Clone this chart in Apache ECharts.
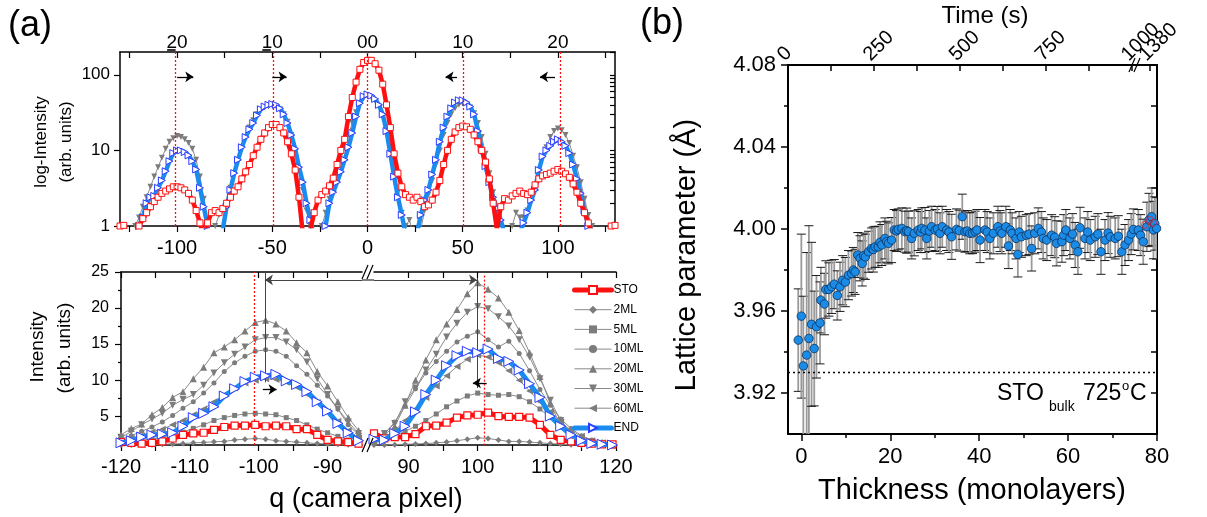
<!DOCTYPE html>
<html>
<head>
<meta charset="utf-8">
<script src="https://cdn.jsdelivr.net/npm/echarts@6/dist/echarts.min.js"></script>
<style>
  html, body { margin: 0; padding: 0; background: #fff; }
  #chart { width: 1207px; height: 517px; }
</style>
</head>
<body>
<div id="chart"></div>
<script>
// ---------- (a) upper: RHEED line profiles on a log scale ----------
const qLog = [
  -130,-128,-126,-124,-122,-120,-118,-116,-114,-112,
  -110,-108,-106,-104,-102,-100,-98,-96,-94,-92,
  -90,-88,-86,-84,-82,-80,-78,-76,-74,-72,
  -70,-68,-66,-64,-62,-60,-58,-56,-54,-52,
  -50,-48,-46,-44,-42,-40,-38,-36,-34,-32,
  -30,-28,-26,-24,-22,-20,-18,-16,-14,-12,
  -10,-8,-6,-4,-2,0,2,4,6,8,
  10,12,14,16,18,20,22,24,26,28,
  30,32,34,36,38,40,42,44,46,48,
  50,52,54,56,58,60,62,64,66,68,
  70,72,74,76,78,80,82,84,86,88,
  90,92,94,96,98,100,102,104,106,108,
  110,112,114,116,118,120,122,124,126,128,
  130
];
const stoLog = [
  1.0,1.02,0.8,0.7,0.8,1.0,1.25,1.5,1.8,2.1,
  2.4,2.7,2.9,3.1,3.3,3.3,3.2,3.0,2.7,2.2,
  1.6,1.1,0.7,1.1,1.5,1.6,1.5,1.7,2.0,2.4,
  2.9,3.3,4.2,5.2,6.5,8.5,11,14,17,20,
  22,22,20,17,13,9,5.5,2.4,0.8,0.6,
  0.9,1.5,2.2,2.6,2.9,3.4,4.3,6.5,10,14,
  28,50,80,118,145,155,155,140,115,75,
  40,20,9,5,3.3,2.6,2.4,2.2,2.4,2.1,
  1.8,1.9,2.2,2.8,4,6.5,10,14,17.5,20,
  21,20.5,19,16,13,10,7,4.2,2.0,0.9,
  1.8,2.3,2.2,2.5,2.7,2.9,2.7,2.6,2.8,3.5,
  4.2,4.6,4.8,5.0,5.3,5.6,5.3,4.9,4.4,3.6,
  2.8,2.0,1.5,1.1,0.8,0.6,0.6,0.7,0.8,1.0,
  1.02
];
const ml30Log = [
  0.5,0.5,0.6,0.8,1.0,1.3,1.8,2.4,3.3,4.5,
  6,8,10.5,13,14.5,15.5,15,14,12.5,10.5,
  7.5,4.5,2.3,1.2,0.8,1.0,1.4,1.6,2.0,3.2,
  5,7.5,11,15,20,25,30,34,37,38,
  39,38,35,30,24,16,10,5.5,3,1.6,
  1.0,0.7,0.7,1.0,1.5,2.3,3.3,5,7.5,11,
  16,23,32,42,49,52,50,45,38,27,
  16,9,5,2.8,1.5,1.0,1.2,0.8,0.7,0.9,
  1.6,2.6,4,6.5,10,16,23,30,36,40,
  42,41,37,31,23,15,9,5,2.8,1.6,
  1.1,0.8,0.7,1.0,1.5,1.3,1.3,1.6,2.1,3.3,
  5.5,8,11,15,18,19.5,18.5,16,12.5,8.5,
  6,3.8,2.3,1.4,1.0,0.7,0.5,0.5,0.5,0.5,
  0.5
];
const endLog = [
  0.5,0.5,0.5,0.6,0.8,1.0,1.3,2.0,2.4,2.5,
  3.2,4.0,5.3,7.2,9.2,10,10,9.5,8.6,7.2,
  5.6,3.2,1.8,1.0,0.6,0.4,0.5,0.9,1.8,3.0,
  5,7.5,11,15,19,23,29,35,38,40,
  41,40,36,30,23,16,10.5,6,3.8,2.0,
  1.2,0.7,0.5,0.6,1.0,2.0,2.8,3.8,5.2,7.5,
  11,17,28,42,52,55,53,48,40,30,
  18,9,4.5,2.4,1.4,0.8,0.5,0.5,0.8,1.4,
  2.2,3.0,4.8,7.5,13,20,28,36,43,46,
  46,43,38,30,18,10.5,6.2,3.8,2.4,1.7,
  1.2,0.8,0.6,0.5,0.6,0.8,1.1,1.5,2.2,3.0,
  5.5,8.3,10,11.5,13,14,13,11.5,9.2,6.5,
  4.2,2.7,1.6,1.0,0.6,0.5,0.5,0.5,0.5,0.5,
  0.5
];
const spotRefQ = [-101, -49.7, 0, 50.5, 101];
const spotTickQ = [-100, -50, 0, 50, 100];
const spotNames = ['20', '10', '00', '10', '20'];
const spotNegative = [true, true, false, false, false];
const qLogLabels = [-100, -50, 0, 50, 100];
const qLogTicks = [-125, -100, -75, -50, -25, 0, 25, 50, 75, 100, 125];
const logLabels = [1, 10, 100];
const logMinorTicks = [1,2,3,4,5,6,7,8,9,10,20,30,40,50,60,70,80,90,100,200];

// ---------- (a) lower: profiles across the (-10) and (10) rods, linear scale ----------
const layerNames = ['STO', '2ML', '5ML', '10ML', '20ML', '30ML', '60ML', 'END'];
const qLeft = [-120,-118.5,-117,-115.5,-114,-112.5,-111,-109.5,-108,-106.5,-105,-103.5,
               -102,-100.5,-99,-97.5,-96,-94.5,-93,-91.5,-90,-88.5,-87,-85.5];
const qRight = [85,86.5,88,89.5,91,92.5,94,95.5,97,98.5,100,101.5,
                103,104.5,106,107.5,109,110.5,112,113.5,115,116.5,118,119.5];
const stoL  = [1.4,1.3,1.2,1.3,1.5,1.9,2.4,2.6,2.7,3.1,3.5,3.7,3.7,3.8,3.6,3.7,3.6,3.2,3.2,2.4,1.7,1.5,1.4,1.2];
const ml2L  = [1.0,1.0,1.05,1.05,1.1,1.15,1.2,1.3,1.35,1.45,1.5,1.7,1.8,1.9,1.8,1.6,1.5,1.4,1.3,1.2,1.15,1.1,1.05,1.0];
const ml5L  = [1.3,1.4,1.6,1.8,2.1,2.4,2.8,3.3,3.8,4.4,4.8,5.1,5.3,5.4,5.3,5.2,4.8,4.4,3.8,3.2,2.7,2.2,1.7,1.4];
const ml10L = [1.8,2.3,2.9,3.5,4.2,5.1,6.1,7.0,8.2,9.6,11.2,12.4,13.3,14.0,14.2,14.0,13.3,12.0,10.8,9.3,7.8,6.0,3.8,2.4];
const ml20L = [2.4,3.3,3.9,5.2,6.2,7.6,8.4,10.2,11.8,13.8,14.6,15.6,16.8,18.0,18.3,17.8,16.8,15.2,13.8,11.2,9.2,7.0,4.8,3.0];
const ml30L = [2.0,2.9,3.8,4.6,5.4,6.5,7.3,8.0,9.3,11.0,12.4,13.6,14.6,15.6,15.9,15.9,15.3,14.2,12.5,10.2,8.0,6.0,4.2,2.6];
const ml60L = [1.5,1.9,2.3,2.8,3.2,3.8,4.4,5.2,6.0,7.0,8.0,8.9,9.6,10.0,10.2,10.1,9.7,9.0,8.0,6.9,5.6,4.3,3.0,2.0];
const endL  = [1.3,1.6,2.1,2.4,2.5,2.7,3.6,4.8,5.4,6.3,7.8,8.8,9.8,10.4,10.6,10.8,9.9,9.4,8.4,7.0,5.7,4.0,2.7,1.6];
const stoR  = [2.6,1.9,2.1,2.1,2.5,3.6,3.7,4.1,4.8,5.1,5.2,5.5,5.0,4.9,4.9,4.8,3.8,2.4,1.7,1.5,1.3,1.2,1.1,1.1];
const ml2R  = [1.0,1.0,1.05,1.1,1.15,1.2,1.3,1.4,1.6,1.8,2.0,1.9,1.7,1.5,1.5,1.4,1.3,1.2,1.1,1.05,1.0,1.0,1.0,1.0];
const ml5R  = [1.4,1.8,2.3,2.9,3.6,4.4,5.3,6.3,7.1,7.8,8.2,8.0,7.9,8.0,7.7,7.0,6.0,4.8,3.6,2.6,2.0,1.6,1.3,1.2];
const ml10R = [1.8,2.5,4.2,6.4,8.8,11.0,12.6,14.0,15.3,16.1,16.7,15.6,14.6,15.4,13.7,11.3,8.7,6.5,4.6,3.3,2.3,1.7,1.4,1.2];
const ml20R = [2.2,2.4,3.6,6.5,10.0,12.8,15.6,17.8,19.8,22.0,23.5,22.6,21.4,19.4,16.9,13.8,10.5,6.8,3.6,2.0,1.5,1.2,1.1,1.0];
const ml30R = [2.0,2.6,4.0,7.0,8.9,11.4,13.6,16.0,17.9,19.4,20.2,19.9,18.8,17.5,15.6,13.2,10.2,7.2,4.4,2.7,1.8,1.4,1.2,1.1];
const ml60R = [1.6,2.1,3.0,4.4,6.0,7.6,9.2,10.6,11.9,12.9,13.5,13.2,12.4,11.3,10.0,8.5,7.0,5.6,4.2,3.0,2.2,1.6,1.3,1.1];
const endR  = [1.8,1.7,2.6,3.6,5.6,8.0,10.0,12.0,13.4,14.0,13.8,14.3,13.0,12.6,11.4,9.5,7.6,5.0,3.6,2.4,1.6,1.2,1.1,1.0];
const rodRefLeft = -100.7, rodRefRight = 101;
const qLeftLabels = [-120, -110, -100, -90];
const qLeftTicks = [-120, -115, -110, -105, -100, -95, -90];
const qRightLabels = [90, 100, 110, 120];
const qRightTicks = [90, 95, 100, 105, 110, 115, 120];
const intLabels = [5, 10, 15, 20, 25];
const intMinor = [2.5, 7.5, 12.5, 17.5, 22.5];

// ---------- (b) in-plane lattice parameter vs thickness ----------
const thicknessML = [
  -0.7,0,0.45,1.2,1.7,2.3,2.9,3.4,4.2,4.4,
  5.2,5.5,6.2,6.8,7.4,8.1,8.7,9.3,9.9,10.6,
  11.3,11.7,12.1,12.7,13.2,13.7,14.0,14.4,15.1,15.8,
  16.2,16.6,17.3,17.7,18.1,18.8,19.2,19.6,20.3,20.9,
  21.4,21.8,22.6,23.3,23.7,24.1,24.8,25.4,26.3,26.8,
  27.1,27.8,28.2,28.8,29.3,30.1,30.6,31.2,31.7,32.7,
  33.2,33.8,34.9,35.5,36.2,36.8,37.3,37.9,38.5,39.1,
  39.5,40.2,41.3,41.8,42.4,43.2,44.2,44.7,45.1,46.0,
  46.6,47.0,47.4,48.3,48.7,49.0,49.5,50.6,51.2,51.8,
  52.5,53.3,54.0,54.4,55.2,56.3,57.0,57.4,58.6,59.0,
  59.5,60.4,61.0,61.6,62.2,62.7,63.8,64.4,65.0,66.1,
  66.7,67.4,68.3,69.0,69.5,70.6,71.3,72.1,72.8,73.6,
  74.2,74.7,75.8,76.3,76.9,77.7,78.2,78.8,79.2,79.5,
  79.9
];
const latticeA = [
  3.9458,3.9575,3.9332,3.9385,3.9466,3.9535,3.9417,3.9523,3.9542,3.9653,
  3.9634,3.9705,3.9705,3.9718,3.9731,3.9676,3.9718,3.9750,3.9741,3.9775,
  3.9783,3.9800,3.9791,3.9873,3.9857,3.9832,3.9870,3.9864,3.9889,3.9905,
  3.9900,3.9913,3.9913,3.9935,3.9922,3.9954,3.9938,3.9930,3.9946,3.9995,
  3.9990,3.9998,4.0003,3.9987,3.9992,3.9987,3.9954,3.9979,3.9995,3.9985,
  4.0003,3.9995,3.9954,3.9990,4.0011,3.9995,4.0000,3.9979,4.0011,3.9995,
  3.9985,3.9962,3.9998,3.9992,4.0060,3.9987,3.9990,3.9979,3.9980,3.9987,
  3.9995,3.9946,3.9995,3.9985,3.9954,3.9979,4.0011,3.9990,3.9979,4.0011,
  3.9917,3.9995,3.9979,3.9954,3.9876,3.9985,3.9962,3.9970,3.9975,3.9905,
  3.9979,4.0003,3.9985,3.9954,3.9946,3.9970,3.9960,3.9930,3.9938,3.9970,
  3.9995,3.9954,3.9975,3.9922,3.9889,4.0006,3.9954,3.9985,3.9946,3.9962,
  3.9975,3.9889,3.9946,3.9980,3.9962,3.9954,3.9965,3.9889,3.9922,3.9946,
  3.9975,3.9998,3.9995,3.9970,3.9938,4.0011,4.0044,4.0060,3.9995,4.0027,
  4.0003
];
const latticeErr = [
  0.025,0.040,0.034,0.050,0.055,0.040,0.028,0.025,0.020,0.016,
  0.015,0.014,0.013,0.013,0.012,0.012,0.012,0.012,0.012,0.012,
  0.011,0.011,0.011,0.011,0.011,0.011,0.011,0.011,0.010,0.010,
  0.011,0.010,0.010,0.010,0.010,0.010,0.010,0.010,0.011,0.010,
  0.010,0.010,0.010,0.010,0.011,0.010,0.010,0.011,0.010,0.010,
  0.010,0.011,0.010,0.010,0.010,0.010,0.011,0.010,0.010,0.010,
  0.010,0.011,0.010,0.010,0.011,0.010,0.010,0.010,0.010,0.010,
  0.010,0.011,0.010,0.010,0.010,0.010,0.010,0.010,0.010,0.010,
  0.011,0.010,0.010,0.010,0.011,0.010,0.010,0.010,0.010,0.011,
  0.010,0.010,0.010,0.010,0.010,0.010,0.010,0.011,0.010,0.010,
  0.010,0.010,0.010,0.011,0.011,0.010,0.010,0.010,0.010,0.010,
  0.010,0.011,0.010,0.010,0.010,0.010,0.010,0.011,0.010,0.010,
  0.010,0.010,0.010,0.010,0.011,0.012,0.013,0.014,0.014,0.013,
  0.015
];
const ringML = [77.3, 78.4, 79.1];
const ringA = [4.0020, 4.0045, 4.0030];
const stoBulkA = 3.9268;
const mlLabels = [0, 20, 40, 60, 80];
const mlMinor = [10, 30, 50, 70];
const aLabels = [3.92, 3.96, 4.00, 4.04, 4.08];
const aMinor = [3.94, 3.98, 4.02, 4.06];
const aRightTicks = [3.92, 3.94, 3.96, 3.98, 4.00, 4.02, 4.04, 4.06, 4.08];
// time axis: 0-1000 s linear, then a break to the final 1380 s mark
const timeMax = 1073;
const timeTicks = [0, 125, 250, 375, 500, 625, 750, 875, 1000, 1052];
const timeLabelPos = [0, 250, 500, 750, 1000];
const timeBreakPos = 1052;
const timeBreakLabel = '1380';

// ---------- styling ----------
const FONT = '"Liberation Sans", Arial, Helvetica, sans-serif';
const INK = '#000';
const RED = '#ff1010';
const BLUE = '#1a8cf0';
const BLUE_EDGE = '#2a3cff';
const GRAY = '#8a8a8a';

const zip = (xs, ys) => xs.map((x, i) => [x, ys[i]]);

function axLine(w) { return { show: true, onZero: false, lineStyle: { color: INK, width: w } }; }
function axTick(vals, len, inside, w) {
  return { show: true, customValues: vals, length: len, inside: inside, lineStyle: { color: INK, width: w || 1.2 } };
}
function axLabel(vals, size, margin, extra) {
  return Object.assign({ show: true, customValues: vals, fontSize: size, margin: margin, color: INK,
    fontFamily: FONT, showMinLabel: true, showMaxLabel: true, hideOverlap: false }, extra || {});
}
const hidden = { show: false };
const noSplit = { show: false };
const noLine = { show: false, onZero: false };

function vAxis(grid, pos, min, max, line, tick, label, extra) {
  return Object.assign({
    gridIndex: grid, type: 'value', position: pos, min: min, max: max,
    axisLine: line, axisTick: tick, axisLabel: label, splitLine: noSplit
  }, extra || {});
}

// gray thin-line series of the lower panel
const graySymbols = {
  '2ML':  { symbol: 'diamond', size: 6, rotate: 0 },
  '5ML':  { symbol: 'rect', size: 5, rotate: 0 },
  '10ML': { symbol: 'circle', size: 5, rotate: 0 },
  '20ML': { symbol: 'triangle', size: 7, rotate: 0 },
  '30ML': { symbol: 'triangle', size: 7, rotate: 180 },
  '60ML': { symbol: 'triangle', size: 7, rotate: 90 }
};
const lowerData = {
  STO:   [stoL, stoR],
  '2ML': [ml2L, ml2R],
  '5ML': [ml5L, ml5R],
  '10ML':[ml10L, ml10R],
  '20ML':[ml20L, ml20R],
  '30ML':[ml30L, ml30R],
  '60ML':[ml60L, ml60R],
  END:   [endL, endR]
};

function styleFor(name) {
  if (name === 'STO') {
    return { symbol: 'rect', symbolSize: 7, symbolRotate: 0,
      itemStyle: { color: '#fff', borderColor: RED, borderWidth: 1.2 },
      lineStyle: { color: RED, width: 5, cap: 'round', join: 'round' }, z: 5 };
  }
  if (name === 'END') {
    return { symbol: 'triangle', symbolSize: 10, symbolRotate: -90,
      itemStyle: { color: '#fff', borderColor: BLUE_EDGE, borderWidth: 1 },
      lineStyle: { color: BLUE, width: 5, cap: 'round', join: 'round' }, z: 6 };
  }
  const g = graySymbols[name];
  return { symbol: g.symbol, symbolSize: g.size, symbolRotate: g.rotate,
    itemStyle: { color: '#7c7c7c' },
    lineStyle: { color: GRAY, width: 1 }, z: 3 };
}

const dotted = { color: RED, width: 1.3, type: [2, 2] };
const annLine = { color: '#444', width: 1, type: 'solid' };
const arrowLine = { color: '#000', width: 1.3, type: 'solid' };

function seg(a, b, s0, s1, style) {
  return [
    { coord: a, symbol: s0, lineStyle: style },
    { coord: b, symbol: s1, lineStyle: style }
  ];
}
function markLines(items) {
  return { silent: true, symbol: ['none', 'none'], symbolSize: 8, label: { show: false }, animation: false, data: items };
}

const series = [];

// upper panel: log-intensity profiles
series.push({
  name: '30ML (log)', type: 'line', xAxisIndex: 0, yAxisIndex: 0, data: zip(qLog, ml30Log),
  symbol: 'triangle', symbolRotate: 180, symbolSize: 6, clip: true, z: 2,
  itemStyle: { color: '#7c7c7c' }, lineStyle: { color: GRAY, width: 1 }
});
series.push({
  name: 'END (log)', type: 'line', xAxisIndex: 0, yAxisIndex: 0, data: zip(qLog, endLog),
  symbol: 'triangle', symbolRotate: -90, symbolSize: 7, clip: true, z: 3,
  itemStyle: { color: '#fff', borderColor: BLUE_EDGE, borderWidth: 1 },
  lineStyle: { color: BLUE, width: 4.5, join: 'round' }
});
series.push({
  name: 'STO (log)', type: 'line', xAxisIndex: 0, yAxisIndex: 0, data: zip(qLog, stoLog),
  symbol: 'rect', symbolSize: 6, clip: true, z: 4,
  itemStyle: { color: '#fff', borderColor: RED, borderWidth: 1 },
  lineStyle: { color: RED, width: 4.5, join: 'round' },
  markLine: markLines(spotRefQ.map(q => ({ xAxis: q, lineStyle: dotted })).concat([
    seg([-100, 94], [-91.5, 94], 'none', 'arrow', arrowLine),
    seg([-50, 94], [-42.5, 94], 'none', 'arrow', arrowLine),
    seg([47, 94], [41, 94], 'none', 'arrow', arrowLine),
    seg([98.5, 94], [90.6, 94], 'none', 'arrow', arrowLine)
  ]))
});

// lower panel: left and right halves of the broken q axis
['2ML', '5ML', '10ML', '20ML', '30ML', '60ML', 'STO', 'END'].forEach(name => {
  const st = styleFor(name);
  [0, 1].forEach(side => {
    const s = Object.assign({
      name: name, type: 'line',
      xAxisIndex: side === 0 ? 2 : 4, yAxisIndex: side === 0 ? 2 : 4,
      data: zip(side === 0 ? qLeft : qRight, lowerData[name][side]), clip: true
    }, st);
    if (name === 'END') {
      s.markLine = side === 0 ? markLines([
        { xAxis: rodRefLeft, lineStyle: dotted },
        seg([-99.1, 25], [-99.1, 9.7], 'none', 'none', annLine),
        seg([-99.1, 23.9], [-85, 23.9], 'arrow', 'none', annLine),
        seg([-99.4, 8.7], [-97.4, 8.7], 'none', 'arrow', arrowLine)
      ]) : markLines([
        seg([rodRefRight, 24.5], [rodRefRight, 1], 'none', 'none', dotted),
        seg([99.9, 24.2], [99.9, 8.9], 'none', 'none', annLine),
        seg([85, 23.9], [99.9, 23.9], 'none', 'arrow', annLine),
        seg([101.3, 9.6], [99.3, 9.6], 'none', 'arrow', arrowLine)
      ]);
    }
    series.push(s);
  });
});

// panel (b): error bars, points, bulk reference
series.push({
  name: 'error', type: 'custom', xAxisIndex: 6, yAxisIndex: 5, clip: true, z: 2,
  data: thicknessML.map((t, i) => [t, latticeA[i], latticeErr[i]]),
  encode: { x: 0, y: 1 },
  renderItem: function (params, api) {
    const t = api.value(0), a = api.value(1), e = api.value(2);
    const hi = api.coord([t, a + e]);
    const lo = api.coord([t, a - e]);
    const hw = 4.5;
    return {
      type: 'group',
      children: [
        { type: 'line', shape: { x1: hi[0], y1: hi[1], x2: lo[0], y2: lo[1] },
          style: { stroke: '#9a9a9a', lineWidth: 1.8 } },
        { type: 'line', shape: { x1: hi[0] - hw, y1: hi[1], x2: hi[0] + hw, y2: hi[1] },
          style: { stroke: '#1a1a1a', lineWidth: 1 } },
        { type: 'line', shape: { x1: lo[0] - hw, y1: lo[1], x2: lo[0] + hw, y2: lo[1] },
          style: { stroke: '#1a1a1a', lineWidth: 1 } }
      ]
    };
  }
});
series.push({
  name: 'lattice', type: 'scatter', xAxisIndex: 6, yAxisIndex: 5, z: 4, clip: true,
  data: zip(thicknessML, latticeA), symbol: 'circle', symbolSize: 8.5,
  itemStyle: { color: '#1a8ce8', borderColor: '#0d2f58', borderWidth: 0.8, opacity: 1 },
  markLine: markLines([{ yAxis: stoBulkA, lineStyle: { color: '#000', width: 1.3, type: [2, 3] } }])
});
series.push({
  name: 'ring', type: 'scatter', xAxisIndex: 6, yAxisIndex: 5, z: 5, clip: true,
  data: zip(ringML, ringA), symbol: 'circle', symbolSize: 7,
  itemStyle: { color: 'rgba(255,255,255,0)', borderColor: '#d8283a', borderWidth: 1 }
});

// ---------- text, titles and axis-break marks ----------
function txt(text, x, y, size, rot, extra) {
  return {
    type: 'text', x: x, y: y, rotation: rot || 0, silent: true, z: 100,
    style: Object.assign({
      text: text, fontSize: size, fontFamily: FONT, fill: INK,
      align: 'center', verticalAlign: 'middle', textAlign: 'center', textVerticalAlign: 'middle'
    }, extra || {})
  };
}
function ln(x1, y1, x2, y2, w) {
  return { type: 'line', silent: true, z: 100, shape: { x1: x1, y1: y1, x2: x2, y2: y2 },
    style: { stroke: INK, lineWidth: w || 1.2 } };
}
function slashes(x, y) {
  return [ln(x - 6, y + 7, x, y - 7), ln(x - 1, y + 7, x + 5, y - 7)];
}
const R90 = Math.PI / 2;

const graphic = [
  txt('(a)', 30, 26, 36),
  txt('(b)', 662, 24, 36),
  txt('log-Intensity', 41, 142, 17, R90),
  txt('(arb. units)', 66, 142, 17, R90),
  txt('Intensity', 38, 347, 19, R90),
  txt('(arb. units)', 65, 348, 19, R90),
  txt('q (camera pixel)', 366, 500, 27),
  txt('Lattice parameter (Å)', 687, 255, 29, R90),
  txt('Thickness (monolayers)', 972, 491, 29),
  txt('Time (s)', 985, 16, 24),
  txt('STO', 997, 394, 23, 0, { align: 'left', textAlign: 'left' }),
  txt('bulk', 1049, 407, 14, 0, { align: 'left', textAlign: 'left' }),
  txt('725', 1083, 394, 23, 0, { align: 'left', textAlign: 'left' }),
  txt('o', 1122, 386, 13, 0, { align: 'left', textAlign: 'left' }),
  txt('C', 1130, 394, 23, 0, { align: 'left', textAlign: 'left' }),
  ln(362, 280, 374, 280, 1)
].concat(slashes(368, 272), slashes(368, 445), slashes(1135, 65));

// slanted labels reading upward to the right, starting just left of each tick
const timeLabelStyle = { rotate: -45, align: 'left', verticalAlign: 'bottom' };

const option = {
  animation: false,
  backgroundColor: '#fff',
  textStyle: { fontFamily: FONT },
  grid: [
    { left: 120, top: 52, width: 495, height: 174, show: false },
    { left: 121, top: 272, width: 241, height: 173, show: false },
    { left: 374, top: 272, width: 242, height: 173, show: false },
    { left: 788, top: 65, width: 369, height: 369, show: false }
  ],
  xAxis: [
    vAxis(0, 'bottom', -130, 130, axLine(1.5), axTick(qLogTicks, 6, false), axLabel(qLogLabels, 20, 12)),
    vAxis(0, 'top', -130, 130, axLine(1.5), axTick(qLogTicks, 6, true),
      axLabel(spotTickQ, 19, 0, { formatter: v => spotNames[spotTickQ.indexOf(v)] })),
    vAxis(1, 'bottom', -120, -85, axLine(1.5), axTick(qLeftTicks, 6, false), axLabel(qLeftLabels, 20, 12)),
    vAxis(1, 'top', -120, -85, axLine(1.5), axTick(qLeftTicks, 6, true), hidden),
    vAxis(2, 'bottom', 85, 120, axLine(1.5), axTick(qRightTicks, 6, false), axLabel(qRightLabels, 20, 12)),
    vAxis(2, 'top', 85, 120, axLine(1.5), axTick(qRightTicks, 6, true), hidden),
    vAxis(3, 'bottom', -3, 80, axLine(2), axTick(mlLabels, 7, false, 1.5), axLabel(mlLabels, 22, 12)),
    vAxis(3, 'bottom', -3, 80, noLine, axTick(mlMinor, 4, false, 1.5), hidden),
    vAxis(3, 'top', 0, timeMax, axLine(2), axTick(timeTicks, 6, true, 1.5),
      axLabel(timeLabelPos, 20, 0, Object.assign({ formatter: v => String(v) }, timeLabelStyle))),
    vAxis(3, 'top', 0, timeMax, noLine, hidden,
      axLabel([timeBreakPos], 20, 0, Object.assign({ formatter: () => timeBreakLabel }, timeLabelStyle)))
  ],
  yAxis: [
    vAxis(0, 'left', 1, 200, axLine(1.5), axTick(logLabels, 6, false), axLabel(logLabels, 17, 10), { type: 'log', logBase: 10 }),
    vAxis(0, 'right', 1, 200, axLine(1.5), axTick(logMinorTicks, 5, true), hidden, { type: 'log', logBase: 10 }),
    vAxis(1, 'left', 1, 25, axLine(1.5), axTick(intLabels, 6, false), axLabel(intLabels, 16, 12)),
    vAxis(1, 'left', 1, 25, noLine, axTick(intMinor, 3, false), hidden),
    vAxis(2, 'left', 1, 25, noLine, hidden, hidden, { show: false }),
    vAxis(3, 'left', 3.90, 4.08, axLine(2), axTick(aLabels, 7, false, 1.5),
      axLabel(aLabels, 22, 12, { formatter: v => v.toFixed(2) })),
    vAxis(3, 'left', 3.90, 4.08, noLine, axTick(aMinor, 4, false, 1.5), hidden),
    vAxis(3, 'right', 3.90, 4.08, axLine(2), axTick(aRightTicks, 6, true, 1.5), hidden)
  ],
  legend: {
    data: layerNames, orient: 'vertical', left: 572, top: 284,
    itemWidth: 37, itemHeight: 10, itemGap: 7.7, padding: 0,
    selectedMode: false,
    lineStyle: { width: 'inherit' },
    textStyle: { fontSize: 12, color: INK, fontFamily: FONT, padding: [0, 0, 0, -3] }
  },
  series: series,
  graphic: graphic
};

const chart = echarts.init(document.getElementById('chart'), null, { renderer: 'canvas' });
chart.setOption(option);

// bars under the first digit of the negative spot indices on the top axis
const bars = [];
spotTickQ.forEach((q, i) => {
  if (!spotNegative[i]) return;
  const px = chart.convertToPixel({ xAxisIndex: 1 }, q);
  bars.push(ln(px - 10, 50, px - 1.5, 50, 1.6));
});
chart.setOption({ graphic: graphic.concat(bars) });
</script>
</body>
</html>
